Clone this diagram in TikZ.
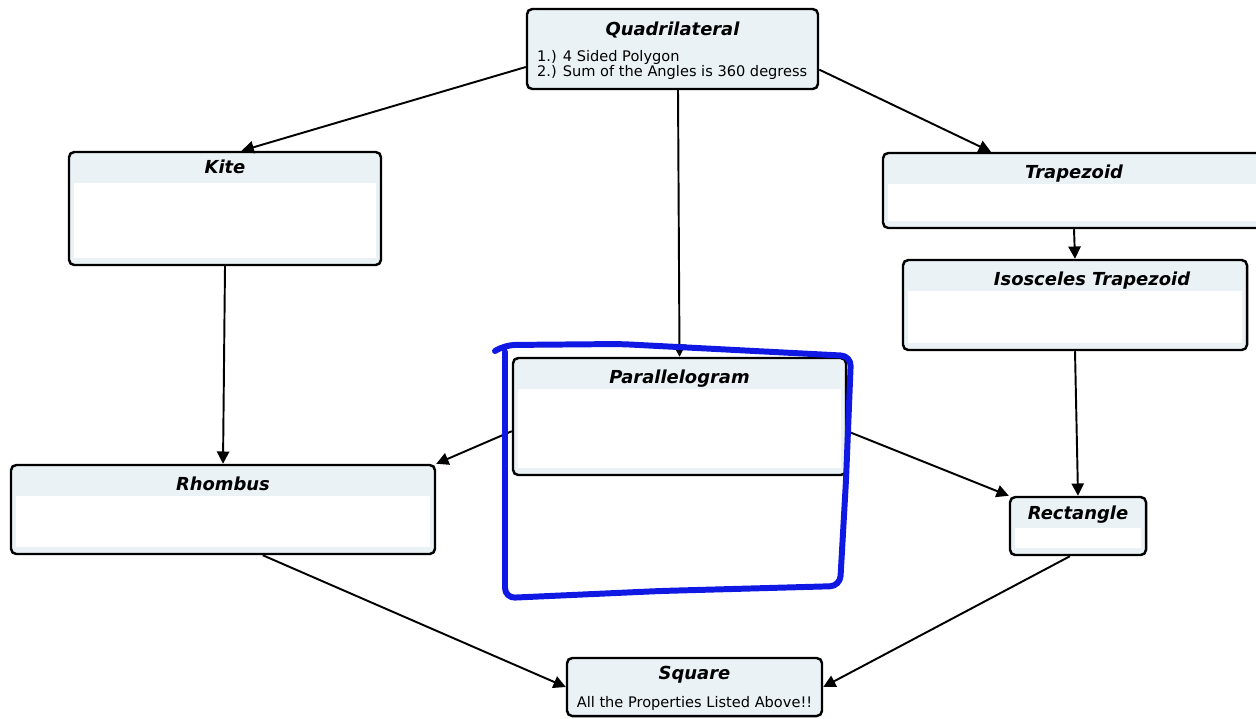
\documentclass[tikz,border=0pt]{standalone}
\usepackage{fontspec}
\setmainfont{DejaVu Sans}
\usetikzlibrary{positioning, fit, arrows.meta}
\definecolor{boxfill}{RGB}{234,242,245}
\definecolor{penblue}{RGB}{16,24,228}
\tikzset{
  box/.style={draw, line width=1.4pt, rounded corners=3pt, fill=boxfill, inner sep=0pt},
  panel/.style={box, path picture={\fill[white, sharp corners]
      ([shift={(5,31)}]path picture bounding box.north west) rectangle
      ([shift={(-5,-7)}]path picture bounding box.south east);}},
  title/.style={font=\bfseries\itshape\fontsize{10.2}{12}\selectfont, inner sep=0pt, anchor=base},
  body/.style={font=\fontsize{8.3}{8.3}\selectfont, inner sep=0pt, align=left},
  link/.style={line width=1.1pt, -{Triangle[length=7pt, width=7pt]}},
  handloop/.style={draw=penblue, line width=3.4pt, line cap=round, line join=round, rounded corners=0.2cm}
}
\begin{document}
\begin{tikzpicture}[x=0.02cm, y=-0.02cm]
\useasboundingbox (0,0) rectangle (1256,718);
% boxes
\node[box, fit={(527,9) (818,89)}] (quad) {};
\node[panel, fit={(69,152) (381,265)}] (kite) {};
\node[panel, fit={(883,153) (1265,228)}] (trap) {};
\node[panel, fit={(903,260) (1247,350)}] (iso) {};
\node[panel, fit={(513,358) (846,475)}] (para) {};
\node[panel, fit={(11,465) (435,554)}] (rhomb) {};
\node[panel, fit={(1010,497) (1146,555)}] (rect) {};
\node[box, fit={(567,658) (822,716)}] (square) {};
% titles
\node[title] (quadT) at ([yshift=-0.55cm]quad.north) {Quadrilateral};
\node[body, anchor=north west] (quadB) at ([xshift=0.22cm, yshift=-0.85cm]quad.north west)
    {1.) 4 Sided Polygon\\2.) Sum of the Angles is 360 degress};
\node[title] (kiteT) at ([yshift=-0.45cm]kite.north) {Kite};
\node[title] (trapT) at ([yshift=-0.53cm]trap.north) {Trapezoid};
\node[title] (isoT) at ([xshift=0.34cm, yshift=-0.53cm]iso.north) {Isosceles Trapezoid};
\node[title] (paraT) at ([yshift=-0.53cm]para.north) {Parallelogram};
\node[title] (rhombT) at ([yshift=-0.53cm]rhomb.north) {Rhombus};
\node[title] (rectT) at ([yshift=-0.47cm]rect.north) {Rectangle};
\node[title] (squareT) at ([yshift=-0.45cm]square.north) {Square};
\node[body, anchor=base] (squareB) at ([yshift=0.19cm]square.south)
    {All the Properties Listed Above!!};
% links
\path
    (quad.187) edge[link] (kite.74)
    (quad.352) edge[link] (trap.155)
    ([xshift=0.11cm]quad.south) edge[link] (para.north)
    (kite.south) edge[link] (rhomb.north)
    (trap.south) edge[link] (iso.north)
    (iso.south) edge[link] (rect.north)
    (para.185) edge[link] (rhomb.north east)
    (para.355) edge[link] (rect.north west)
    (rhomb.311) edge[link] (square.west)
    (rect.255) edge[link] (square.east)
    ;
% pen mark round the parallelogram
\draw[handloop] (495,351) -- (505,345) -- (620,344) -- (851,356) -- (846,480) -- (840,586)
    -- (660,591) -- (505,598) -- (505,352);
\end{tikzpicture}
\end{document}
